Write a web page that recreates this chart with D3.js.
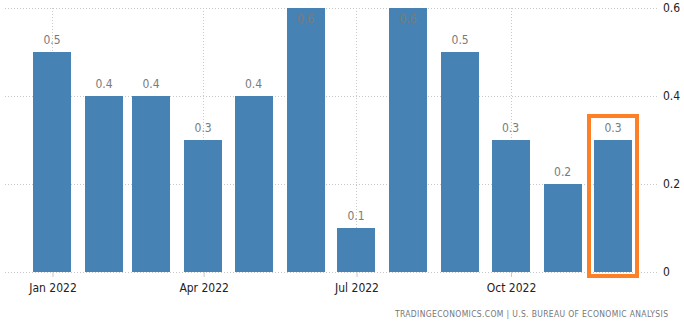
<!DOCTYPE html>
<html>
<head>
<meta charset="utf-8">
<script src="https://cdn.jsdelivr.net/npm/d3@7"></script>
<style>
  html, body { margin: 0; padding: 0; background: #fff; }
  svg { display: block; font-family: "DejaVu Sans Condensed", "DejaVu Sans", sans-serif; }
</style>
</head>
<body>
<svg id="chart" width="684" height="323"></svg>
<script>
// Monthly change, 2022
const months = ["2022-01-01","2022-02-01","2022-03-01","2022-04-01","2022-05-01","2022-06-01",
                "2022-07-01","2022-08-01","2022-09-01","2022-10-01","2022-11-01","2022-12-01"];
const values = [0.5, 0.4, 0.4, 0.3, 0.4, 0.6, 0.1, 0.6, 0.5, 0.3, 0.2, 0.3];
const yTicks = [0, 0.2, 0.4, 0.6];
const xTickDates = ["2022-01-01","2022-04-01","2022-07-01","2022-10-01"];
const highlightIndex = 11;
const credits = "TRADINGECONOMICS.COM  |  U.S. BUREAU OF ECONOMIC ANALYSIS";

const parse = d3.utcParse("%Y-%m-%d");
const data = months.map((m, i) => ({ date: parse(m), value: values[i] }));

const svg = d3.select("#chart");
const barColor = "#4682b4";
const gridColor = "#c8c8c8";
const plot = { left: 5, right: 658, top: 8, bottom: 272 };

const x = d3.scaleUtc()
  .domain([parse(months[0]), parse(months[months.length - 1])])
  .range([52, 613]);
const y = d3.scaleLinear().domain([0, 0.6]).range([plot.bottom, plot.top]);
const barW = 38;

// horizontal grid
svg.append("g").selectAll("line").data(yTicks).join("line")
  .attr("x1", plot.left).attr("x2", plot.right)
  .attr("y1", d => y(d) + 0.5).attr("y2", d => y(d) + 0.5)
  .attr("stroke", gridColor).attr("stroke-width", 1).attr("stroke-dasharray", "1,2");

// vertical grid at quarter ticks
const xt = xTickDates.map(parse);
svg.append("g").selectAll("line").data(xt).join("line")
  .attr("x1", d => Math.round(x(d)) + 0.5).attr("x2", d => Math.round(x(d)) + 0.5)
  .attr("y1", plot.top).attr("y2", plot.bottom)
  .attr("stroke", gridColor).attr("stroke-width", 1).attr("stroke-dasharray", "1,2");

// x axis ticks and labels
const xAxis = d3.axisBottom(x).tickValues(xt).tickSize(5).tickPadding(6)
  .tickFormat(d3.utcFormat("%b %Y"));
const gx = svg.append("g").attr("transform", `translate(0.5,${plot.bottom})`).call(xAxis);
gx.select(".domain").remove();
gx.selectAll(".tick line").attr("stroke", gridColor);
gx.selectAll(".tick text").attr("fill", "#222").attr("font-size", 12)
  .attr("font-family", "DejaVu Sans Condensed, DejaVu Sans, sans-serif");

// y axis on the right
const yAxis = d3.axisRight(y).tickValues(yTicks).tickSize(0).tickPadding(0)
  .tickFormat(d => d === 0 ? "0" : d3.format(".1f")(d));
const gy = svg.append("g").attr("transform", `translate(663,0)`).call(yAxis);
gy.select(".domain").remove();
gy.selectAll(".tick text").attr("fill", "#222").attr("font-size", 12)
  .attr("font-family", "DejaVu Sans Condensed, DejaVu Sans, sans-serif");

// bars
svg.append("g").selectAll("rect").data(data).join("rect")
  .attr("x", d => Math.round(x(d.date) - barW / 2))
  .attr("y", d => y(d.value))
  .attr("width", barW)
  .attr("height", d => y(0) - y(d.value))
  .attr("fill", barColor);

// value labels (placed inside the bar when there is no room above)
svg.append("g").selectAll("text").data(data).join("text")
  .attr("x", d => x(d.date))
  .attr("y", d => {
    const top = y(d.value);
    return top - 8 < plot.top + 4 ? top + 15 : top - 8;
  })
  .attr("text-anchor", "middle")
  .attr("font-size", 12)
  .attr("fill", "#7b7b7b")
  .text(d => d3.format(".1f")(d.value));

// highlight frame around the latest bar
const h = data[highlightIndex];
const hx = x(h.date);
svg.append("rect")
  .attr("x", hx - barW / 2 - 5)
  .attr("y", y(h.value) - 24)
  .attr("width", barW + 10)
  .attr("height", y(0) + 4 - (y(h.value) - 24))
  .attr("fill", "none")
  .attr("stroke", "#ff7f27")
  .attr("stroke-width", 4);

// source credit
svg.append("text")
  .attr("x", 395).attr("y", 317)
  .attr("font-size", 8.5)
  .attr("fill", "#777")
  .attr("textLength", 273)
  .attr("lengthAdjust", "spacing")
  .text(credits);
</script>
</body>
</html>
